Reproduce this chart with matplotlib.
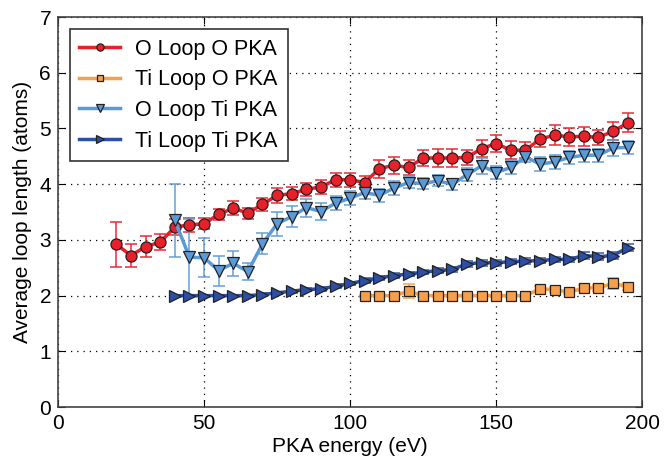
import matplotlib

matplotlib.use("Agg")
import matplotlib.pyplot as plt
import numpy as np

plt.rcParams["font.family"] = ["Liberation Sans", "DejaVu Sans"]

# O Loop O PKA
e_oo = [20, 25, 30, 35, 40, 45, 50, 55, 60, 65, 70, 75, 80, 85, 90, 95, 100,
        105, 110, 115, 120, 125, 130, 135, 140, 145, 150, 155, 160, 165, 170,
        175, 180, 185, 190, 195]
y_oo = [2.92, 2.72, 2.88, 2.96, 3.23, 3.27, 3.29, 3.46, 3.57, 3.48, 3.64, 3.80,
        3.83, 3.91, 3.95, 4.08, 4.08, 4.03, 4.28, 4.34, 4.30, 4.47, 4.47, 4.47,
        4.48, 4.64, 4.73, 4.61, 4.61, 4.81, 4.88, 4.85, 4.86, 4.84, 4.95, 5.10]
err_oo = [0.41, 0.21, 0.19, 0.14, 0.15, 0.13, 0.10, 0.10, 0.12, 0.10, 0.12, 0.13,
          0.12, 0.12, 0.12, 0.13, 0.13, 0.11, 0.16, 0.15, 0.13, 0.14, 0.16, 0.16,
          0.14, 0.15, 0.15, 0.16, 0.14, 0.15, 0.18, 0.16, 0.17, 0.14, 0.16, 0.17]

# Ti Loop O PKA
e_to = [105, 110, 115, 120, 125, 130, 135, 140, 145, 150, 155, 160, 165, 170,
        175, 180, 185, 190, 195]
y_to = [2.0, 2.0, 2.0, 2.08, 2.0, 2.0, 2.0, 2.0, 2.0, 2.0, 2.0, 2.0, 2.12, 2.11,
        2.06, 2.14, 2.14, 2.22, 2.16]
err_to = [0.02, 0.02, 0.02, 0.13, 0.02, 0.02, 0.02, 0.02, 0.02, 0.02, 0.02, 0.02,
          0.06, 0.05, 0.03, 0.05, 0.05, 0.10, 0.06]

# O Loop Ti PKA
e_ot = [40, 45, 50, 55, 60, 65, 70, 75, 80, 85, 90, 95, 100, 105, 110, 115, 120,
        125, 130, 135, 140, 145, 150, 155, 160, 165, 170, 175, 180, 185, 190, 195]
y_ot = [3.35, 2.69, 2.68, 2.45, 2.58, 2.43, 2.93, 3.29, 3.42, 3.58, 3.51, 3.66,
        3.75, 3.85, 3.80, 3.93, 4.03, 4.01, 4.06, 4.00, 4.17, 4.33, 4.21, 4.30,
        4.49, 4.36, 4.40, 4.48, 4.52, 4.52, 4.65, 4.66]
err_ot = [0.65, 0.68, 0.35, 0.27, 0.23, 0.15, 0.19, 0.22, 0.18, 0.16, 0.15, 0.13,
          0.12, 0.12, 0.12, 0.12, 0.10, 0.10, 0.10, 0.10, 0.12, 0.14, 0.12, 0.12,
          0.10, 0.12, 0.12, 0.12, 0.12, 0.12, 0.14, 0.12]

# Ti Loop Ti PKA
e_tt = [40, 45, 50, 55, 60, 65, 70, 75, 80, 85, 90, 95, 100, 105, 110, 115, 120,
        125, 130, 135, 140, 145, 150, 155, 160, 165, 170, 175, 180, 185, 190, 195]
y_tt = [2.0, 2.0, 2.0, 2.0, 2.0, 2.0, 2.02, 2.05, 2.08, 2.11, 2.12, 2.17, 2.22,
        2.27, 2.32, 2.36, 2.39, 2.42, 2.45, 2.47, 2.57, 2.59, 2.59, 2.61, 2.62,
        2.63, 2.65, 2.65, 2.72, 2.70, 2.72, 2.86]
err_tt = [0.01, 0.01, 0.01, 0.01, 0.01, 0.01, 0.02, 0.02, 0.03, 0.03, 0.03, 0.03,
          0.03, 0.04, 0.04, 0.04, 0.04, 0.04, 0.04, 0.04, 0.05, 0.05, 0.05, 0.05,
          0.05, 0.05, 0.05, 0.05, 0.06, 0.06, 0.06, 0.06]

series = [
    ("O Loop O PKA", e_oo, y_oo, err_oo, "#e8202a", "o", 8),
    ("Ti Loop O PKA", e_to, y_to, err_to, "#f7a04c", "s", 7),
    ("O Loop Ti PKA", e_ot, y_ot, err_ot, "#5b9ad6", "v", 8),
    ("Ti Loop Ti PKA", e_tt, y_tt, err_tt, "#2d4fa3", ">", 8),
]

fig = plt.figure(figsize=(6.64, 4.61), dpi=100)
ax = fig.add_axes([0.0873, 0.117, 0.880, 0.846])

for label, x, y, err, color, marker, ms in series:
    ax.errorbar(x, y, yerr=err, fmt="none", ecolor=color, elinewidth=1.3,
                capsize=4, capthick=1.3, alpha=0.8, zorder=2)
    ax.plot(x, y, color=color, lw=2.5, marker=marker, ms=ms, mfc=color,
            mec="#222222", mew=0.9, label=label, zorder=3)

ax.set_xlim(0, 200)
ax.set_ylim(0, 7)
ax.set_xticks([0, 50, 100, 150, 200])
ax.set_yticks(range(8))
ax.grid(True, color="black", ls=(0, (1, 4)), lw=0.9)
ax.tick_params(direction="in", top=True, right=True, labelsize=15, length=5, pad=5)
for sp in ax.spines.values():
    sp.set_color("#444444")
    sp.set_linewidth(1.2)

ax.set_xlabel("PKA energy (eV)", fontsize=15, labelpad=3)
ax.set_ylabel("Average loop length (atoms)", fontsize=15, labelpad=5)

leg = ax.legend(loc="upper left", numpoints=1, fontsize=15.5, markerscale=0.65,
                handlelength=1.9, handletextpad=0.7, borderpad=0.45,
                labelspacing=0.45, fancybox=False, framealpha=1,
                edgecolor="#333333", bbox_to_anchor=(0.0, 1.0), borderaxespad=0.55)
leg.get_frame().set_linewidth(1.2)

fig.savefig("out.png", dpi=100)
